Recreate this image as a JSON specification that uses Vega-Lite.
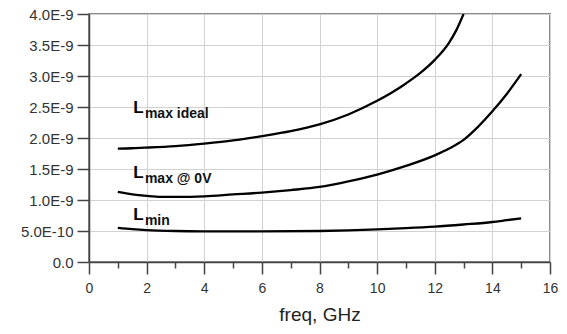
{
  "$schema": "https://vega.github.io/schema/vega-lite/v6.json",
  "width": 461,
  "height": 248,
  "autosize": {"type": "none"},
  "padding": {"left": 89, "top": 14, "right": 17, "bottom": 72},
  "config": {
    "view": {"stroke": "#666", "strokeWidth": 1.5},
    "font": "Liberation Sans"
  },
  "datasets": {
    "curves": [
      {"series": "Lmax ideal", "f": 1, "L": 1.83e-9},
      {"series": "Lmax ideal", "f": 1.5, "L": 1.835e-9},
      {"series": "Lmax ideal", "f": 2, "L": 1.845e-9},
      {"series": "Lmax ideal", "f": 3, "L": 1.87e-9},
      {"series": "Lmax ideal", "f": 4, "L": 1.91e-9},
      {"series": "Lmax ideal", "f": 5, "L": 1.96e-9},
      {"series": "Lmax ideal", "f": 6, "L": 2.03e-9},
      {"series": "Lmax ideal", "f": 7, "L": 2.11e-9},
      {"series": "Lmax ideal", "f": 8, "L": 2.22e-9},
      {"series": "Lmax ideal", "f": 9, "L": 2.38e-9},
      {"series": "Lmax ideal", "f": 10, "L": 2.6e-9},
      {"series": "Lmax ideal", "f": 10.5, "L": 2.73e-9},
      {"series": "Lmax ideal", "f": 11, "L": 2.88e-9},
      {"series": "Lmax ideal", "f": 11.5, "L": 3.05e-9},
      {"series": "Lmax ideal", "f": 12, "L": 3.26e-9},
      {"series": "Lmax ideal", "f": 12.5, "L": 3.54e-9},
      {"series": "Lmax ideal", "f": 12.75, "L": 3.74e-9},
      {"series": "Lmax ideal", "f": 13, "L": 4.0e-9},
      {"series": "Lmax 0V", "f": 1, "L": 1.13e-9},
      {"series": "Lmax 0V", "f": 1.5, "L": 1.09e-9},
      {"series": "Lmax 0V", "f": 2, "L": 1.065e-9},
      {"series": "Lmax 0V", "f": 2.5, "L": 1.05e-9},
      {"series": "Lmax 0V", "f": 3, "L": 1.05e-9},
      {"series": "Lmax 0V", "f": 4, "L": 1.06e-9},
      {"series": "Lmax 0V", "f": 5, "L": 1.09e-9},
      {"series": "Lmax 0V", "f": 6, "L": 1.12e-9},
      {"series": "Lmax 0V", "f": 7, "L": 1.16e-9},
      {"series": "Lmax 0V", "f": 8, "L": 1.21e-9},
      {"series": "Lmax 0V", "f": 9, "L": 1.3e-9},
      {"series": "Lmax 0V", "f": 10, "L": 1.41e-9},
      {"series": "Lmax 0V", "f": 11, "L": 1.55e-9},
      {"series": "Lmax 0V", "f": 12, "L": 1.72e-9},
      {"series": "Lmax 0V", "f": 12.5, "L": 1.83e-9},
      {"series": "Lmax 0V", "f": 13, "L": 1.97e-9},
      {"series": "Lmax 0V", "f": 13.5, "L": 2.18e-9},
      {"series": "Lmax 0V", "f": 14, "L": 2.43e-9},
      {"series": "Lmax 0V", "f": 14.5, "L": 2.71e-9},
      {"series": "Lmax 0V", "f": 15, "L": 3.03e-9},
      {"series": "Lmin", "f": 1, "L": 0.55e-9},
      {"series": "Lmin", "f": 1.5, "L": 0.53e-9},
      {"series": "Lmin", "f": 2, "L": 0.515e-9},
      {"series": "Lmin", "f": 3, "L": 0.5e-9},
      {"series": "Lmin", "f": 4, "L": 0.495e-9},
      {"series": "Lmin", "f": 6, "L": 0.493e-9},
      {"series": "Lmin", "f": 8, "L": 0.5e-9},
      {"series": "Lmin", "f": 9, "L": 0.51e-9},
      {"series": "Lmin", "f": 10, "L": 0.525e-9},
      {"series": "Lmin", "f": 11, "L": 0.545e-9},
      {"series": "Lmin", "f": 12, "L": 0.57e-9},
      {"series": "Lmin", "f": 13, "L": 0.605e-9},
      {"series": "Lmin", "f": 14, "L": 0.645e-9},
      {"series": "Lmin", "f": 14.5, "L": 0.675e-9},
      {"series": "Lmin", "f": 15, "L": 0.705e-9}
    ],
    "mainLabels": [
      {"f": 1.54, "L": 2.4e-9, "t": "L"},
      {"f": 1.54, "L": 1.36e-9, "t": "L"},
      {"f": 1.54, "L": 0.677e-9, "t": "L"}
    ],
    "subLabels": [
      {"f": 1.94, "L": 2.318e-9, "t": "max ideal"},
      {"f": 1.94, "L": 1.27e-9, "t": "max @ 0V"},
      {"f": 1.94, "L": 0.597e-9, "t": "min"}
    ]
  },
  "layer": [
    {
      "data": {"name": "curves"},
      "mark": {"type": "line", "color": "black", "strokeWidth": 2.3, "interpolate": "monotone", "clip": true},
      "encoding": {
        "x": {
          "field": "f", "type": "quantitative",
          "scale": {"domain": [0, 16], "nice": false},
          "axis": {
            "title": "freq, GHz",
            "titleFont": "Liberation Sans", "titleFontSize": 19, "titleFontWeight": "normal", "titleColor": "#222",
            "titleBaseline": "alphabetic", "titleY": 58,
            "values": [0,1,2,3,4,5,6,7,8,9,10,11,12,13,14,15,16],
            "tickCount": 40,
            "labelExpr": "datum.value % 2 == 0 ? format(datum.value, 'd') : ''",
            "labelFont": "Liberation Sans", "labelFontSize": 14, "labelColor": "#333",
            "labelPadding": 7, "labelFlush": false, "labelOverlap": false,
            "tickSize": {"condition": {"test": "datum.value % 2 == 1", "value": 6}, "value": 12},
            "tickColor": "#444",
            "tickWidth": 1.5,
            "domainColor": "#444", "domainWidth": 1.5,
            "grid": true, "gridColor": "#d2d2d2", "gridWidth": 1,
            "gridOpacity": {"condition": {"test": "datum.value % 2 == 1", "value": 0}, "value": 1}
          }
        },
        "y": {
          "field": "L", "type": "quantitative",
          "scale": {"domain": [0, 4e-9], "nice": false, "zero": true},
          "axis": {
            "title": null,
            "values": [0, 5e-10, 1e-9, 1.5e-9, 2e-9, 2.5e-9, 3e-9, 3.5e-9, 4e-9],
            "tickCount": 40,
            "labelExpr": "datum.value == 0 ? '0.0' : (datum.value < 9e-10 ? format(datum.value * 1e10, '.1f') + 'E-10' : format(datum.value * 1e9, '.1f') + 'E-9')",
            "labelFont": "Liberation Sans", "labelFontSize": 15, "labelColor": "#333",
            "labelPadding": 4, "labelFlush": false, "labelOverlap": false,
            "tickSize": 12, "tickColor": "#444", "tickWidth": 1.5,
            "domainColor": "#444", "domainWidth": 1.5,
            "grid": true, "gridColor": "#d2d2d2", "gridWidth": 1
          }
        },
        "detail": {"field": "series"}
      }
    },
    {
      "data": {"name": "mainLabels"},
      "mark": {"type": "text", "align": "left", "baseline": "alphabetic", "font": "Liberation Sans", "fontSize": 17, "fontWeight": "bold", "color": "black"},
      "encoding": {
        "x": {"field": "f", "type": "quantitative"},
        "y": {"field": "L", "type": "quantitative"},
        "text": {"field": "t"}
      }
    },
    {
      "data": {"name": "subLabels"},
      "mark": {"type": "text", "align": "left", "baseline": "alphabetic", "font": "Liberation Sans", "fontSize": 14, "fontWeight": "bold", "color": "#111"},
      "encoding": {
        "x": {"field": "f", "type": "quantitative"},
        "y": {"field": "L", "type": "quantitative"},
        "text": {"field": "t"}
      }
    }
  ]
}
